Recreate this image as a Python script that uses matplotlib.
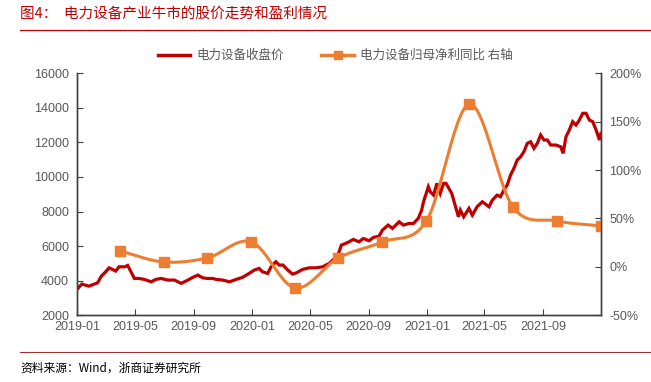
import numpy as np
import pandas as pd
import matplotlib
matplotlib.use("Agg")
import matplotlib.pyplot as plt
import matplotlib.dates as mdates
from matplotlib.ticker import FuncFormatter
from matplotlib.lines import Line2D

plt.rcParams['font.family'] = ['Liberation Sans', 'Noto Sans CJK SC', 'DejaVu Sans']

# 电力设备收盘价（按图读取，大约每周一个点）
price_dates = [
    "2019-01-02", "2019-01-10", "2019-01-25", "2019-02-12", "2019-02-20", "2019-03-01",
    "2019-03-08", "2019-03-15", "2019-03-22", "2019-03-29", "2019-04-10", "2019-04-16",
    "2019-04-23", "2019-04-30", "2019-05-10", "2019-05-21", "2019-06-04", "2019-06-14",
    "2019-06-25", "2019-07-09", "2019-07-23", "2019-08-06", "2019-08-20", "2019-08-30",
    "2019-09-10", "2019-09-20", "2019-09-30", "2019-10-11", "2019-10-18", "2019-11-01",
    "2019-11-15", "2019-11-29", "2019-12-12", "2019-12-26", "2020-01-06", "2020-01-16",
    "2020-01-23", "2020-02-03", "2020-02-10", "2020-02-20", "2020-02-27", "2020-03-06",
    "2020-03-16", "2020-03-26", "2020-04-03", "2020-04-16", "2020-04-30", "2020-05-14",
    "2020-05-28", "2020-06-11", "2020-06-22", "2020-06-29", "2020-07-06", "2020-07-15",
    "2020-07-22", "2020-07-31", "2020-08-12", "2020-08-21", "2020-09-02", "2020-09-11",
    "2020-09-23", "2020-09-30", "2020-10-12", "2020-10-21", "2020-11-04", "2020-11-13",
    "2020-11-25", "2020-12-04", "2020-12-14", "2020-12-21", "2020-12-25", "2021-01-04",
    "2021-01-08", "2021-01-15", "2021-01-22", "2021-01-29", "2021-02-05", "2021-02-10",
    "2021-02-22", "2021-03-01", "2021-03-08", "2021-03-12", "2021-03-19", "2021-03-30",
    "2021-04-06", "2021-04-16", "2021-04-27", "2021-05-11", "2021-05-18", "2021-05-28",
    "2021-06-04", "2021-06-11", "2021-06-18", "2021-06-25", "2021-07-02", "2021-07-09",
    "2021-07-16", "2021-07-23", "2021-07-30", "2021-08-06", "2021-08-13", "2021-08-20",
    "2021-08-27", "2021-09-03", "2021-09-10", "2021-09-17", "2021-09-28", "2021-10-08",
    "2021-10-13", "2021-10-19", "2021-10-26", "2021-11-02", "2021-11-09", "2021-11-16",
    "2021-11-23", "2021-11-30", "2021-12-07", "2021-12-14", "2021-12-21", "2021-12-28",
    "2021-12-31",
]
price_vals = [
    3550, 3800, 3680, 3870, 4260, 4510,
    4740, 4650, 4550, 4800, 4800, 4880,
    4510, 4125, 4125, 4070, 3930, 4070,
    4125, 4030, 4030, 3840, 4030, 4185,
    4320, 4160, 4125, 4125, 4070, 4030,
    3930, 4070, 4185, 4415, 4610, 4705,
    4510, 4415, 4800, 5090, 4900, 4900,
    4610, 4375, 4450, 4650, 4740, 4740,
    4800, 5000, 5285, 5475, 6055, 6150,
    6245, 6385, 6245, 6440, 6305, 6500,
    6575, 6925, 7215, 7020, 7405, 7215,
    7310, 7310, 7600, 8080, 8565, 9430,
    9145, 8950, 9630, 9050, 9630, 9630,
    9050, 8370, 7695, 8080, 7695, 8180,
    7790, 8275, 8565, 8275, 8660, 8950,
    8855, 9240, 9530, 10110, 10500, 10980,
    11170, 11460, 11945, 12040, 11655, 11945,
    12430, 12140, 12140, 11850, 11850, 11750,
    11370, 12330, 12720, 13200, 13005, 13295,
    13685, 13685, 13295, 13200, 12720, 12140,
    12525,
]

# 电力设备归母净利同比（%，右轴）
profit_dates = ["2019-03-31", "2019-06-30", "2019-09-30", "2019-12-31",
                "2020-03-31", "2020-06-30", "2020-09-30", "2020-12-31",
                "2021-03-31", "2021-06-30", "2021-09-30", "2021-12-31"]
profit_yoy = [16.4, 5.0, 9.2, 25.7, -21.8, 9.2, 25.7, 47.4, 168.0, 61.9, 47.4, 42.3]

x_ticks = ["2019-01", "2019-05", "2019-09", "2020-01", "2020-05",
           "2020-09", "2021-01", "2021-05", "2021-09"]

red = "#C00000"
orange = "#ED7D31"
gray = "#595959"


def smooth(xs, ys, n=40):
    # Catmull-Rom 平滑曲线（类似 Excel 的平滑线）
    xs = np.asarray(xs, float)
    ys = np.asarray(ys, float)
    px = np.concatenate([[2 * xs[0] - xs[1]], xs, [2 * xs[-1] - xs[-2]]])
    py = np.concatenate([[2 * ys[0] - ys[1]], ys, [2 * ys[-1] - ys[-2]]])
    out_x, out_y = [], []
    t = np.linspace(0, 1, n)
    for i in range(1, len(px) - 2):
        for p, out in ((px, out_x), (py, out_y)):
            p0, p1, p2, p3 = p[i - 1], p[i], p[i + 1], p[i + 2]
            out.extend(0.5 * (2 * p1 + (-p0 + p2) * t
                              + (2 * p0 - 5 * p1 + 4 * p2 - p3) * t ** 2
                              + (-p0 + 3 * p1 - 3 * p2 + p3) * t ** 3))
    return np.array(out_x), np.array(out_y)


pd_dates = pd.to_datetime(price_dates)
qd = mdates.date2num(pd.to_datetime(profit_dates))

fig = plt.figure(figsize=(6.51, 3.82), dpi=100)
ax = fig.add_axes([0.119, 0.175, 0.804, 0.633])
ax2 = ax.twinx()

ax.plot(pd_dates, price_vals, color=red, lw=2.3, solid_joinstyle='miter')

sx, sy = smooth(qd, profit_yoy)
ax2.plot(sx, sy, color=orange, lw=2.2)
ax2.plot(qd, profit_yoy, ls='none', marker='s', ms=7.5, color=orange)

ax.set_xlim(mdates.date2num(pd.Timestamp("2019-01-01")), mdates.date2num(pd.Timestamp("2021-12-31")))
ax.set_ylim(2000, 16000)
ax.set_yticks(range(2000, 16001, 2000))
ax2.set_ylim(-50, 200)
ax2.set_yticks(range(-50, 201, 50))
ax2.yaxis.set_major_formatter(FuncFormatter(lambda v, p: f"{v:.0f}%"))

ax.set_xticks(mdates.date2num(pd.to_datetime(x_ticks)))
ax.set_xticklabels(x_ticks)

for a in (ax, ax2):
    a.spines['top'].set_visible(False)
    for s in ('left', 'right', 'bottom'):
        a.spines[s].set_color("#404040")
        a.spines[s].set_linewidth(1.0)
    a.tick_params(direction='in', length=4, width=0.8, color="#404040",
                  labelcolor=gray, labelsize=9)
ax.tick_params(axis='y', pad=6)
ax2.tick_params(axis='y', pad=6)
ax.tick_params(axis='x', pad=4)

# 图例
handles = [Line2D([], [], color=red, lw=2.5),
           Line2D([], [], color=orange, lw=2.5, marker='s', ms=6)]
fig.legend(handles, ["电力设备收盘价", "电力设备归母净利同比 右轴"],
           loc='center', bbox_to_anchor=(0.515, 0.855), ncol=2, frameon=False,
           prop={'family': ['Noto Sans CJK SC'], 'size': 9}, labelcolor=gray,
           handlelength=2.6, columnspacing=3.0, handletextpad=0.5)

# 标题与来源
fig.text(0.031, 0.965, "图4：  电力设备产业牛市的股价走势和盈利情况", color="#C00000",
         fontsize=10.5, family=['Noto Sans CJK SC'], va='center', ha='left')
fig.add_artist(Line2D([0.03, 1.0], [0.921, 0.921], color="#C00000", lw=0.9))
fig.add_artist(Line2D([0.03, 1.0], [0.079, 0.079], color="#A03030", lw=0.8))
fig.text(0.031, 0.035, "资料来源：Wind，浙商证券研究所", color="black",
         fontsize=8.5, family=['Noto Sans CJK SC'], va='center', ha='left')

fig.savefig("out.png", dpi=100)
